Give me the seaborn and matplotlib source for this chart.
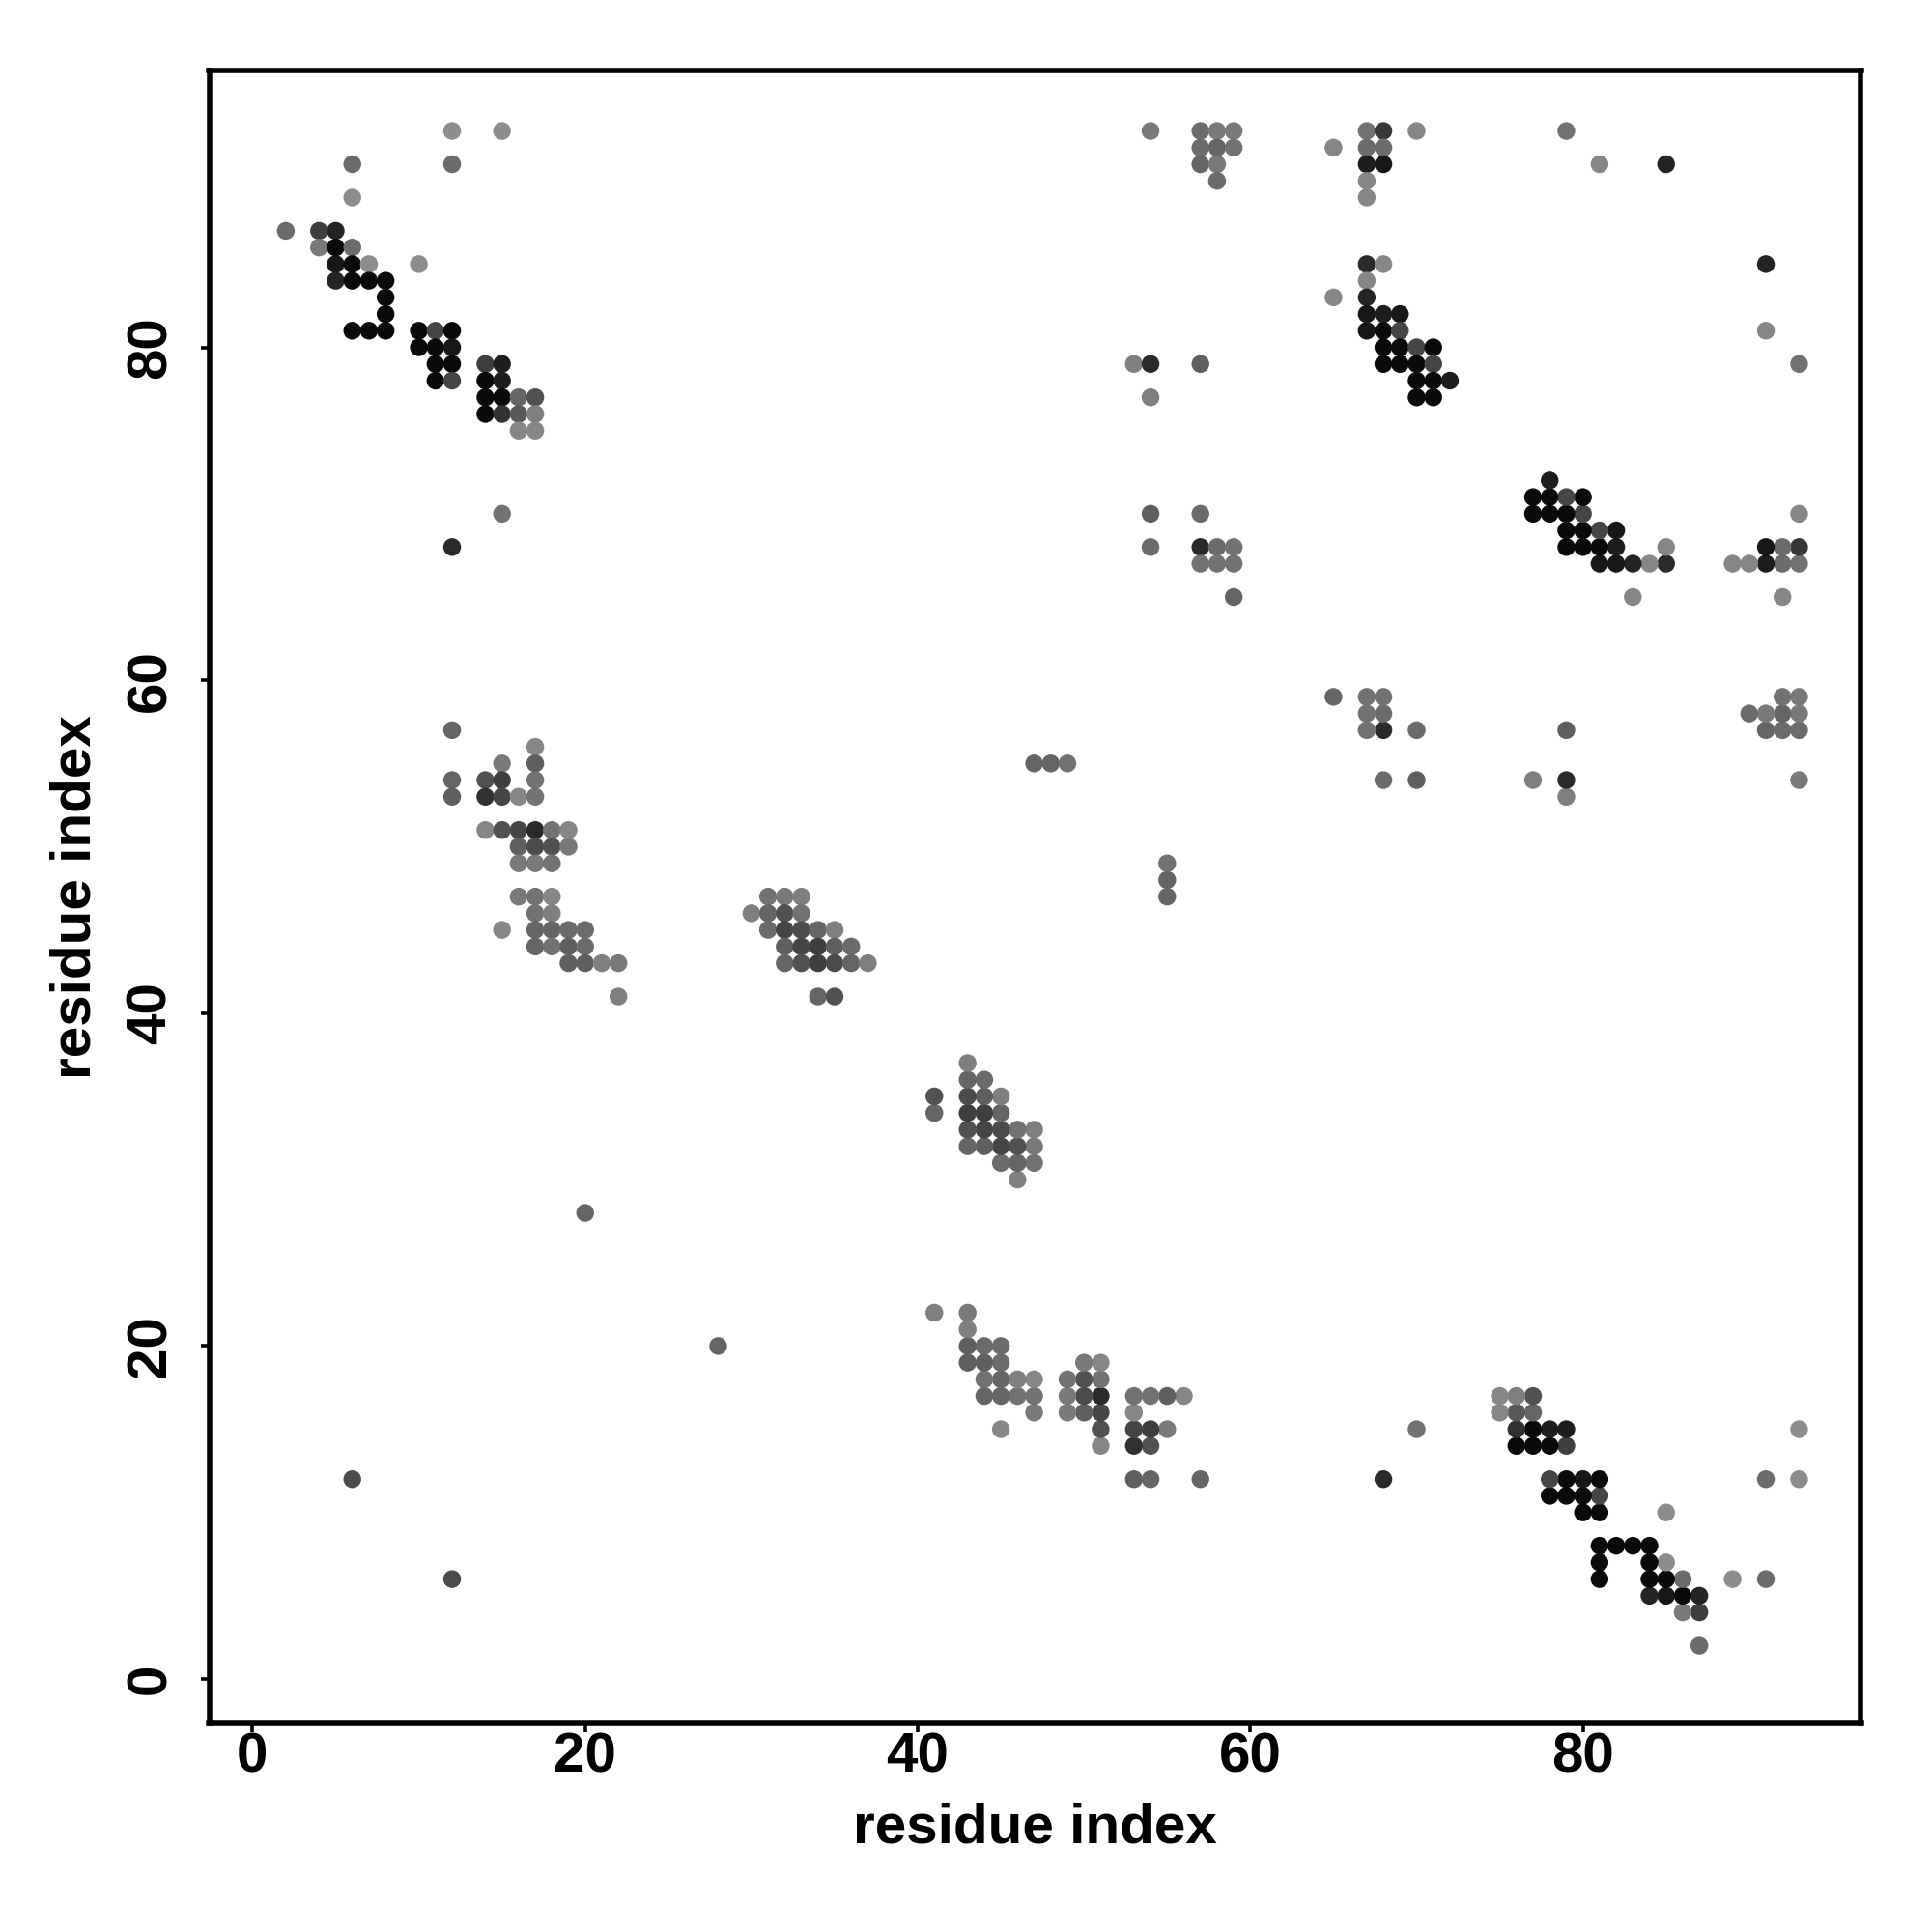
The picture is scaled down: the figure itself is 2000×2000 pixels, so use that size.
import pandas as pd
import matplotlib.pyplot as plt
import seaborn as sns
from matplotlib.colors import LinearSegmentedColormap

# Contacts as (residue i, residue j, score) with i < j.
# The map is symmetric, so every contact is drawn at (i, j) and (j, i).
# score 0 -> lightest grey, 1 -> black

# N-terminal strand against C-terminal strand
contacts_nterm = [
    (12, 93, 0.0), (15, 93, 0.0), (6, 91, 0.25), (12, 91, 0.25), (6, 89, 0.0),
    (2, 87, 0.25), (4, 87, 0.6), (5, 87, 0.8),
    (4, 86, 0.15), (5, 86, 1.0), (6, 86, 0.25),
    (5, 85, 0.9), (6, 85, 1.0), (7, 85, 0.0), (10, 85, 0.0),
    (5, 84, 0.8), (6, 84, 1.0), (7, 84, 1.0), (8, 84, 1.0),
    (8, 83, 1.0), (8, 82, 1.0),
    (6, 81, 1.0), (7, 81, 1.0), (8, 81, 1.0), (10, 81, 1.0), (11, 81, 0.55), (12, 81, 1.0),
    (10, 80, 1.0), (11, 80, 1.0), (12, 80, 0.9),
    (11, 79, 1.0), (12, 79, 1.0), (14, 79, 0.6), (15, 79, 0.85),
    (11, 78, 1.0), (12, 78, 0.55), (14, 78, 1.0), (15, 78, 0.85),
    (14, 77, 1.0), (15, 77, 1.0), (16, 77, 0.3), (17, 77, 0.45),
    (14, 76, 1.0), (15, 76, 0.7), (16, 76, 0.4), (17, 76, 0.1),
    (16, 75, 0.05), (17, 75, 0.05),
]

# residues 12-22 against 41-70
contacts_12_22 = [
    (15, 70, 0.2), (12, 68, 0.75), (12, 57, 0.3), (17, 56, 0.05),
    (15, 55, 0.15), (17, 55, 0.35),
    (12, 54, 0.3), (14, 54, 0.45), (15, 54, 0.6), (17, 54, 0.2),
    (12, 53, 0.35), (14, 53, 0.7), (15, 53, 0.55), (16, 53, 0.05), (17, 53, 0.2),
    (14, 51, 0.05), (15, 51, 0.45), (16, 51, 0.55), (17, 51, 0.75), (18, 51, 0.2), (19, 51, 0.05),
    (16, 50, 0.35), (17, 50, 0.5), (18, 50, 0.45), (19, 50, 0.15),
    (16, 49, 0.15), (17, 49, 0.15), (18, 49, 0.2),
    (16, 47, 0.15), (17, 47, 0.2), (18, 47, 0.05),
    (17, 46, 0.2), (18, 46, 0.1),
    (15, 45, 0.05), (17, 45, 0.3), (18, 45, 0.3), (19, 45, 0.25), (20, 45, 0.25),
    (17, 44, 0.3), (18, 44, 0.2), (19, 44, 0.35), (20, 44, 0.25),
    (19, 43, 0.35), (20, 43, 0.35), (21, 43, 0.1), (22, 43, 0.15),
    (22, 41, 0.1),
]

# hairpin 30-37 / 41-47
contacts_30_37 = [
    (31, 47, 0.2), (32, 47, 0.15), (33, 47, 0.1),
    (30, 46, 0.1), (31, 46, 0.3), (32, 46, 0.45), (33, 46, 0.2),
    (31, 45, 0.25), (32, 45, 0.55), (33, 45, 0.5), (34, 45, 0.3), (35, 45, 0.1),
    (32, 44, 0.35), (33, 44, 0.55), (34, 44, 0.6), (35, 44, 0.35), (36, 44, 0.25),
    (32, 43, 0.3), (33, 43, 0.45), (34, 43, 0.6), (35, 43, 0.5), (36, 43, 0.3), (37, 43, 0.1),
    (34, 41, 0.3), (35, 41, 0.45),
]

# isolated contacts
contacts_single = [
    (6, 12, 0.5), (20, 28, 0.3),
    (47, 55, 0.3), (48, 55, 0.3), (49, 55, 0.2),
    (79, 93, 0.2), (81, 91, 0.05), (85, 91, 0.8),
]

# residues 53-59 against 65-93
contacts_53_59 = [
    (54, 93, 0.15), (57, 93, 0.25), (58, 93, 0.15), (59, 93, 0.15),
    (57, 92, 0.25), (58, 92, 0.3), (59, 92, 0.2),
    (57, 91, 0.3), (58, 91, 0.15), (58, 90, 0.25),
    (53, 79, 0.1), (54, 79, 0.75), (57, 79, 0.35), (54, 77, 0.1),
    (54, 70, 0.35), (57, 70, 0.25),
    (54, 68, 0.25), (57, 68, 0.75), (58, 68, 0.25), (59, 68, 0.2),
    (57, 67, 0.2), (58, 67, 0.2), (59, 67, 0.2), (59, 65, 0.3),
]

# residues 65-72 against 77-93
contacts_65_72 = [
    (67, 93, 0.2), (68, 93, 0.65), (70, 93, 0.05),
    (65, 92, 0.05), (67, 92, 0.25), (68, 92, 0.25),
    (67, 91, 0.85), (68, 91, 0.9), (67, 90, 0.05), (67, 89, 0.05),
    (67, 85, 0.75), (68, 85, 0.05), (67, 84, 0.05),
    (65, 83, 0.05), (67, 83, 0.8),
    (67, 82, 0.9), (68, 82, 0.85), (69, 82, 0.9),
    (67, 81, 0.9), (68, 81, 1.0), (69, 81, 0.55),
    (68, 80, 1.0), (69, 80, 1.0), (70, 80, 0.55), (71, 80, 1.0),
    (68, 79, 1.0), (69, 79, 1.0), (70, 79, 1.0), (71, 79, 0.55),
    (70, 78, 1.0), (71, 78, 1.0), (72, 78, 0.85),
    (70, 77, 1.0), (71, 77, 1.0),
]

tick_values = [0, 20, 40, 60, 80]

contacts = pd.DataFrame(
    contacts_nterm + contacts_12_22 + contacts_30_37 + contacts_single
    + contacts_53_59 + contacts_65_72,
    columns=['i', 'j', 'score'])

# symmetric contact map: both halves
upper = contacts.rename(columns={'i': 'x', 'j': 'y'})
lower = contacts.rename(columns={'i': 'y', 'j': 'x'})
cmap_df = pd.concat([upper, lower], ignore_index=True)

sns.set_style('white')
plt.rcParams['font.family'] = ['Liberation Sans', 'DejaVu Sans']
plt.rcParams['font.weight'] = 'bold'
plt.rcParams['text.color'] = 'black'
plt.rcParams['axes.labelcolor'] = 'black'
plt.rcParams['xtick.color'] = 'black'
plt.rcParams['ytick.color'] = 'black'

greys = LinearSegmentedColormap.from_list('contact_grey', ['#8c8c8c', '#0a0a0a'])

fig = plt.figure(figsize=(10, 10), dpi=200)
ax = fig.add_axes([0.10825, 0.108, 0.855, 0.8555])

sns.scatterplot(data=cmap_df, x='x', y='y', hue='score', palette=greys,
                hue_norm=(0, 1), s=44, linewidth=0, legend=False, ax=ax)

ax.set_xlim(-2.61, 96.72)
ax.set_ylim(-2.67, 96.63)
ax.set_xticks(tick_values)
ax.set_yticks(tick_values)

for side in ['left', 'right', 'top', 'bottom']:
    ax.spines[side].set_visible(True)
    ax.spines[side].set_color('black')
    ax.spines[side].set_linewidth(2.0)

ax.tick_params(axis='both', direction='out', length=3.2, width=1.3,
               colors='black', labelcolor='black', labelsize=21,
               bottom=True, left=True)
ax.tick_params(axis='x', pad=0)
ax.tick_params(axis='y', pad=8.8, labelrotation=90)
for lbl in ax.get_yticklabels():
    lbl.set_va('center')
    lbl.set_fontweight('bold')
for lbl in ax.get_xticklabels():
    lbl.set_fontweight('bold')

ax.set_xlabel('residue index', fontsize=21, fontweight='bold', color='black')
ax.set_ylabel('residue index', fontsize=21, fontweight='bold', color='black')
ax.xaxis.set_label_coords(0.5, -0.0637)
ax.xaxis.label.set_va('center')
ax.yaxis.set_label_coords(-0.0807, 0.5)
ax.yaxis.label.set_va('center')

fig.savefig('out.png', dpi=200, facecolor='white')
